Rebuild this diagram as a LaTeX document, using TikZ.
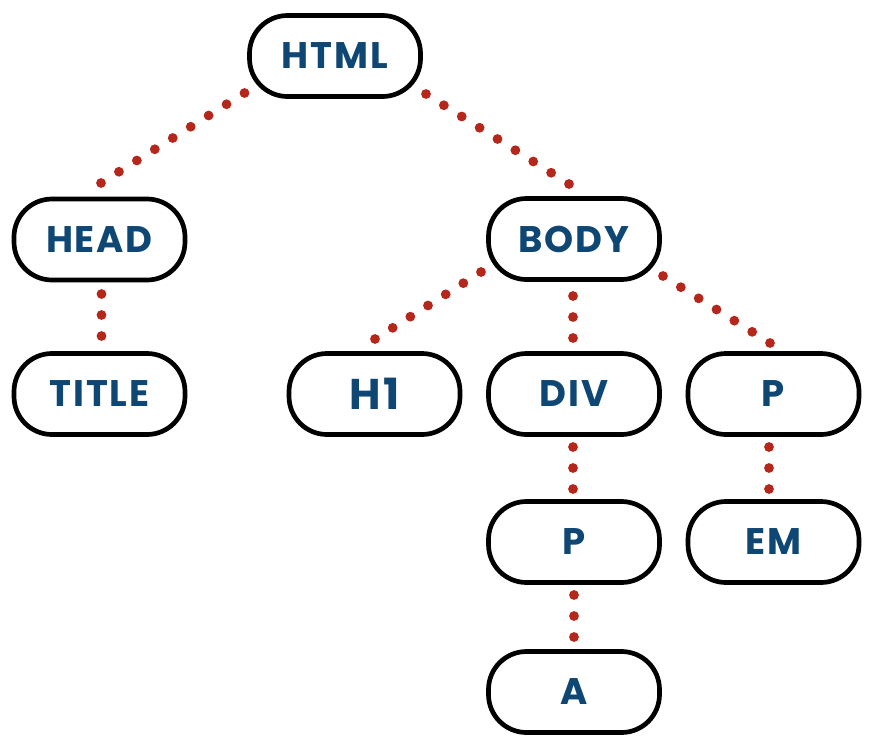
\documentclass[tikz,border=0pt]{standalone}
\usepackage{fontspec}
\setmainfont{Poppins}[LetterSpace=5]
\usetikzlibrary{calc}
\definecolor{txtblue}{HTML}{0E4674}
\definecolor{dotred}{HTML}{B5271B}
\tikzset{
  tag/.style={draw=black, line width=4.7pt, rounded corners=38pt, fill=white,
    minimum width=171pt, minimum height=81pt, inner sep=0pt,
    text=txtblue, font=\fontsize{37}{42}\selectfont\bfseries},
  dotfill/.style={fill=dotred}
}
\newcommand{\dotlink}[3]{%
  \foreach \i in {0,...,#3}{\fill[dotfill] ($(#1)!\i/#3!(#2)$) circle (4.9pt);}}
\begin{document}
\begin{tikzpicture}[x=1pt,y=-1pt]
\useasboundingbox (0,0) rectangle (873,750);
\node[tag] (html)  at (335,56)    {HTML};
\node[tag] (head)  at (99.5,239.5) {HEAD};
\node[tag] (body)  at (574,239)   {BODY};
\node[tag] (title) at (99.5,394)  {TITLE};
\node[tag, font=\fontsize{43}{48}\selectfont\bfseries] (h1) at (374.5,394) {H1};
\node[tag] (div)   at (574,394)   {DIV};
\node[tag] (p1)    at (773.5,394) {P};
\node[tag] (p2)    at (574,542)   {P};
\node[tag] (em)    at (773.5,542) {EM};
\node[tag] (a)     at (574,692)   {A};
% connector end points
\coordinate (s1) at ($(html)+(-90.5,37)$);  \coordinate (e1) at ($(head)+(1.5,-56.5)$);
\coordinate (s2) at ($(html)+(91,38)$);     \coordinate (e2) at ($(body)+(-5,-55)$);
\coordinate (s3) at ($(head)+(2,54.5)$);    \coordinate (e3) at ($(title)+(2,-58)$);
\coordinate (s4) at ($(body)+(-93,33)$);    \coordinate (e4) at ($(h1)+(0.5,-55)$);
\coordinate (s5) at ($(body)+(-1,57)$);     \coordinate (e5) at ($(div)+(-1,-56)$);
\coordinate (s6) at ($(body)+(89,37)$);     \coordinate (e6) at ($(p1)+(-3.5,-51)$);
\coordinate (s7) at ($(div)+(-1,53)$);      \coordinate (e7) at ($(p2)+(-1,-53)$);
\coordinate (s8) at ($(p1)+(-4.5,53)$);     \coordinate (e8) at ($(em)+(-4.5,-53)$);
\coordinate (s9) at ($(p2)+(0,53)$);        \coordinate (e9) at ($(a)+(0,-55)$);
\dotlink{s1}{e1}{8}
\dotlink{s2}{e2}{8}
\dotlink{s3}{e3}{2}
\dotlink{s4}{e4}{6}
\dotlink{s5}{e5}{2}
\dotlink{s6}{e6}{6}
\dotlink{s7}{e7}{2}
\dotlink{s8}{e8}{2}
\dotlink{s9}{e9}{2}
\end{tikzpicture}
\end{document}
